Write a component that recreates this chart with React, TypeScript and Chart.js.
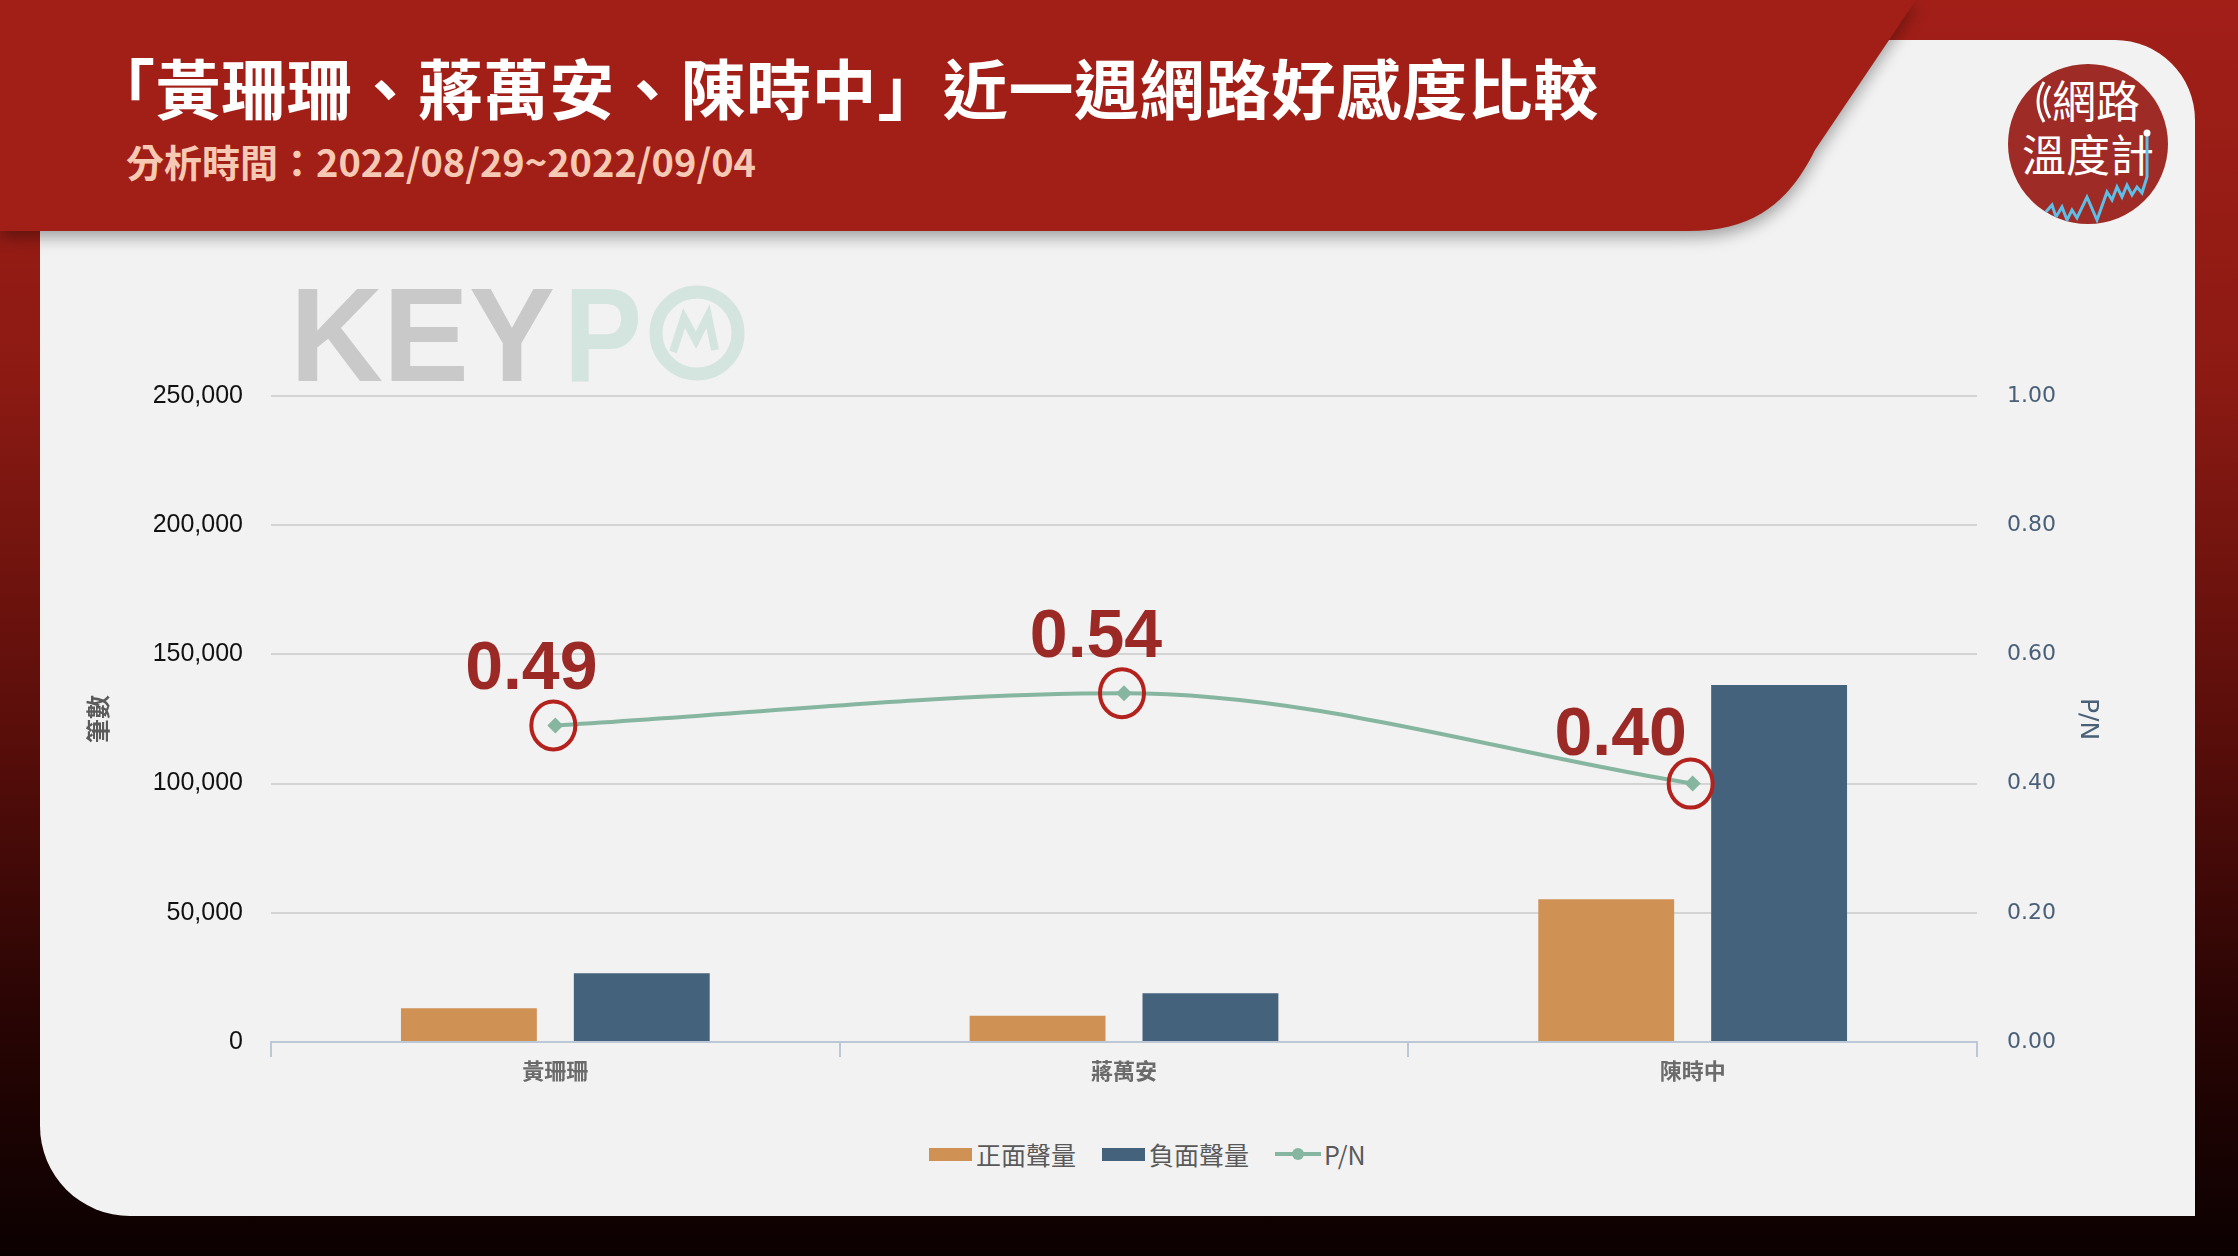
import React, { useEffect, useRef } from 'react';
import { Chart, registerables } from 'chart.js';

Chart.register(...registerables);

const categories = ['黃珊珊', '蔣萬安', '陳時中'];
const positiveVolume = [13100, 10200, 55200];
const negativeVolume = [26600, 18900, 138200];
const pnRatio = [0.49, 0.54, 0.4];
const countTicks = [0, 50000, 100000, 150000, 200000, 250000];
const ratioTicks = [0, 0.2, 0.4, 0.6, 0.8, 1.0];
const seriesNames = ['正面聲量', '負面聲量', 'P/N'];
const titleText = '「黃珊珊、蔣萬安、陳時中」近一週網路好感度比較';
const subtitleText = '分析時間：2022/08/29~2022/09/04';

const ORANGE = '#cf9154';
const BLUE = '#45627d';
const GREEN = '#87b6a0';
const CJK = '"Noto Sans CJK TC", "Noto Sans CJK SC", sans-serif';

const labelOffsets = [
  [-24, -60],
  [-28, -60],
  [-72, -53],
];

const pnAnnotation = {
  id: 'pnAnnotation',
  afterDatasetsDraw(chart: any) {
    const meta = chart.getDatasetMeta(2);
    const ctx = chart.ctx;
    meta.data.forEach((pt: any, i: number) => {
      const x = pt.x;
      const y = pt.y;
      ctx.save();
      ctx.strokeStyle = '#b3221d';
      ctx.lineWidth = 4;
      ctx.beginPath();
      ctx.ellipse(x - 2, y, 22, 24, 0, 0, Math.PI * 2);
      ctx.stroke();
      const off = labelOffsets[i] || [-24, -60];
      ctx.fillStyle = '#9b2a27';
      ctx.font = 'bold 68px "Liberation Sans", Arial, sans-serif';
      ctx.textAlign = 'center';
      ctx.textBaseline = 'alphabetic';
      ctx.fillText(pnRatio[i].toFixed(2), x + off[0], y + off[1] + 24);
      ctx.restore();
    });
  },
};

function ChartCanvas() {
  const ref = useRef<HTMLCanvasElement | null>(null);
  useEffect(() => {
    if (!ref.current) return;
    const chart = new Chart(ref.current, {
      type: 'bar',
      data: {
        labels: categories,
        datasets: [
          {
            type: 'bar',
            label: seriesNames[0],
            data: positiveVolume,
            backgroundColor: ORANGE,
            yAxisID: 'y',
            order: 1,
            categoryPercentage: 0.608,
            barPercentage: 0.786,
          },
          {
            type: 'bar',
            label: seriesNames[1],
            data: negativeVolume,
            backgroundColor: BLUE,
            yAxisID: 'y',
            order: 2,
            categoryPercentage: 0.608,
            barPercentage: 0.786,
          },
          {
            type: 'line',
            label: seriesNames[2],
            data: pnRatio,
            borderColor: GREEN,
            backgroundColor: GREEN,
            borderWidth: 4,
            cubicInterpolationMode: 'monotone',
            pointStyle: 'rectRot',
            pointRadius: 8,
            pointBorderWidth: 0,
            pointBackgroundColor: GREEN,
            yAxisID: 'y1',
            order: 0,
          } as any,
        ],
      },
      options: {
        responsive: false,
        animation: false,
        devicePixelRatio: 1,
        layout: { padding: { top: 96, bottom: 0, left: 0, right: 0 } },
        plugins: {
          legend: { display: false },
          tooltip: { enabled: false },
        },
        scales: {
          x: {
            offset: true,
            grid: {
              display: true,
              drawOnChartArea: false,
              drawTicks: true,
              tickLength: 15,
              color: '#bcc8d6',
              lineWidth: 2,
              offset: true,
            },
            border: { display: true, color: '#bcc8d6', width: 2 },
            ticks: {
              color: '#6b6b6b',
              padding: 0,
              font: { family: CJK, size: 22, weight: 'bold' },
            },
            afterFit: (s: any) => {
              s.height = 58;
            },
          },
          y: {
            position: 'left',
            min: 0,
            max: 250000,
            afterBuildTicks: (s: any) => {
              s.ticks = countTicks.map((v) => ({ value: v }));
            },
            ticks: {
              color: '#111111',
              padding: 28,
              font: { family: '"Liberation Sans", Arial, sans-serif', size: 25 },
              callback: (v: any) => Number(v).toLocaleString('en-US'),
            },
            grid: { color: '#d4d4d4', lineWidth: 2, drawTicks: false },
            border: { display: false },
            title: {
              display: true,
              text: '筆數',
              color: '#5a5a5a',
              font: { family: CJK, size: 24, weight: 'bold' },
              padding: { top: 23, bottom: 0 },
            },
            afterFit: (s: any) => {
              s.width = 211;
            },
          },
          y1: {
            position: 'right',
            min: 0,
            max: 1,
            afterBuildTicks: (s: any) => {
              s.ticks = ratioTicks.map((v) => ({ value: v }));
            },
            ticks: {
              color: '#4a6078',
              padding: 30,
              font: { family: '"DejaVu Sans", sans-serif', size: 22 },
              callback: (v: any) => Number(v).toFixed(2),
            },
            grid: { display: false, drawTicks: false },
            border: { display: false },
            title: {
              display: true,
              text: 'P/N',
              color: '#4a6078',
              font: { family: '"DejaVu Sans", sans-serif', size: 25 },
              padding: { top: 28, bottom: 0 },
            },
            afterFit: (s: any) => {
              s.width = 153;
            },
          },
        },
      } as any,
      plugins: [pnAnnotation],
    });
    return () => chart.destroy();
  }, []);
  return (
    <canvas
      ref={ref}
      width={2070}
      height={800}
      style={{ position: 'absolute', left: 60, top: 300, width: 2070, height: 800 }}
    />
  );
}

function LegendItem({ kind, color, text }: { kind: string; color: string; text: string }) {
  return (
    <div style={{ display: 'flex', alignItems: 'center', marginRight: 26 }}>
      {kind === 'box' ? (
        <div style={{ width: 43, height: 13, background: color, marginRight: 4 }} />
      ) : (
        <svg width={46} height={16} style={{ marginRight: 3 }}>
          <line x1={0} y1={8} x2={46} y2={8} stroke={color} strokeWidth={4} />
          <circle cx={23} cy={8} r={6} fill={color} />
        </svg>
      )}
      <span style={{ fontFamily: CJK, fontSize: 25, color: '#595959', lineHeight: '30px' }}>{text}</span>
    </div>
  );
}

export default function App() {
  return (
    <div
      style={{
        position: 'absolute',
        left: 0,
        top: 0,
        width: 2238,
        height: 1256,
        overflow: 'hidden',
        background: 'linear-gradient(180deg, #a21f18 0%, #8c1a13 30%, #5a0e0a 58%, #2a0504 80%, #0c0101 100%)',
      }}
    >
      {/* panel */}
      <div
        style={{
          position: 'absolute',
          left: 40,
          top: 40,
          width: 2155,
          height: 1176,
          background: '#f2f2f2',
          borderTopRightRadius: 80,
          borderBottomLeftRadius: 90,
        }}
      />
      {/* watermark */}
      <svg width={2238} height={1256} style={{ position: 'absolute', left: 0, top: 0 }}>
        <text
          x={290}
          y={381}
          fontFamily='"Liberation Sans", Arial, sans-serif'
          fontWeight="bold"
          fontSize={134}
          fill="#c9c9c9"
          textLength={265}
          lengthAdjust="spacingAndGlyphs"
        >
          KEY
        </text>
        <text
          x={564}
          y={381}
          fontFamily='"Liberation Sans", Arial, sans-serif'
          fontWeight="bold"
          fontSize={134}
          fill="#d4e5df"
          textLength={78}
          lengthAdjust="spacingAndGlyphs"
        >
          P
        </text>
        <circle cx={697} cy={333} r={41} fill="none" stroke="#d4e5df" strokeWidth={13} />
        <polyline
          points="673,352 684,318 696,340 708,316 715,350"
          fill="none"
          stroke="#d4e5df"
          strokeWidth={8}
          strokeLinejoin="miter"
        />
      </svg>
      {/* header */}
      <svg
        width={2238}
        height={260}
        style={{ position: 'absolute', left: 0, top: 0, filter: 'drop-shadow(0px 6px 8px rgba(0,0,0,0.35))' }}
      >
        <path d="M0,0 H1916 L1815,150 C1792,196 1760,231 1688,231 H0 Z" fill="#a21f18" />
      </svg>
      <div
        style={{
          position: 'absolute',
          left: 90,
          top: 52,
          fontFamily: CJK,
          fontWeight: 700,
          fontSize: 65,
          letterSpacing: 0.6,
          lineHeight: '68px',
          color: '#ffffff',
          whiteSpace: 'nowrap',
        }}
      >
        {titleText}
      </div>
      <div
        style={{
          position: 'absolute',
          left: 126,
          top: 138,
          fontFamily: CJK,
          fontWeight: 700,
          fontSize: 38,
          lineHeight: '46px',
          color: '#f6c9b4',
          whiteSpace: 'nowrap',
        }}
      >
        {subtitleText}
      </div>
      {/* logo */}
      <svg width={2238} height={260} style={{ position: 'absolute', left: 0, top: 0 }}>
        <defs>
          <clipPath id="logoClip">
            <circle cx={2088} cy={144} r={80} />
          </clipPath>
        </defs>
        <circle cx={2088} cy={144} r={80} fill="#9e2b26" />
        <path d="M2050,86 Q2040,101 2050,118" fill="none" stroke="#fff" strokeWidth={3} />
        <path d="M2044,82 Q2032,101 2044,122" fill="none" stroke="#fff" strokeWidth={3} />
        <text x={2096} y={118} textAnchor="middle" fontFamily={CJK} fontSize={44} fill="#fff">
          網路
        </text>
        <text x={2088} y={172} textAnchor="middle" fontFamily={CJK} fontSize={44} fill="#fff">
          溫度計
        </text>
        <g clipPath="url(#logoClip)">
          <polyline
            points="2044,214 2052,205 2056,217 2062,207 2067,220 2072,210 2077,218 2087,197 2097,220 2107,192 2112,200 2117,187 2122,197 2127,185 2132,195 2137,187 2142,193 2147,177 2147,136"
            fill="none"
            stroke="#5bbfe8"
            strokeWidth={3}
          />
          <circle cx={2147} cy={133} r={3.5} fill="#ffffff" />
        </g>
      </svg>
      <ChartCanvas />
      {/* legend */}
      <div
        style={{
          position: 'absolute',
          left: 929,
          top: 1139,
          display: 'flex',
          alignItems: 'center',
          whiteSpace: 'nowrap',
        }}
      >
        <LegendItem kind="box" color={ORANGE} text={seriesNames[0]} />
        <LegendItem kind="box" color={BLUE} text={seriesNames[1]} />
        <LegendItem kind="line" color={GREEN} text={seriesNames[2]} />
      </div>
    </div>
  );
}
